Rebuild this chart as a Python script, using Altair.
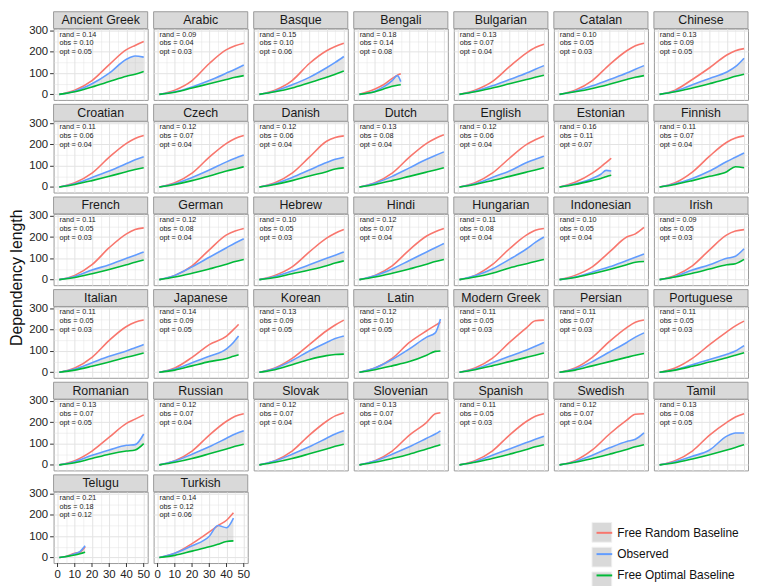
import altair as alt
import pandas as pd

LANGS = ["Ancient Greek", "Arabic", "Basque", "Bengali", "Bulgarian", "Catalan", "Chinese",
         "Croatian", "Czech", "Danish", "Dutch", "English", "Estonian", "Finnish",
         "French", "German", "Hebrew", "Hindi", "Hungarian", "Indonesian", "Irish",
         "Italian", "Japanese", "Korean", "Latin", "Modern Greek", "Persian", "Portuguese",
         "Romanian", "Russian", "Slovak", "Slovenian", "Spanish", "Swedish", "Tamil",
         "Telugu", "Turkish"]

STAT_RAND = [0.14, 0.09, 0.15, 0.18, 0.13, 0.10, 0.13,
             0.11, 0.12, 0.12, 0.13, 0.12, 0.16, 0.11,
             0.11, 0.12, 0.10, 0.12, 0.11, 0.10, 0.09,
             0.11, 0.14, 0.13, 0.12, 0.11, 0.11, 0.11,
             0.13, 0.12, 0.12, 0.13, 0.11, 0.12, 0.13,
             0.21, 0.14]
STAT_OBS = [0.10, 0.04, 0.10, 0.14, 0.07, 0.05, 0.09,
            0.06, 0.07, 0.06, 0.08, 0.06, 0.11, 0.07,
            0.05, 0.08, 0.05, 0.07, 0.08, 0.05, 0.05,
            0.05, 0.09, 0.09, 0.10, 0.05, 0.07, 0.05,
            0.07, 0.07, 0.07, 0.07, 0.05, 0.07, 0.08,
            0.18, 0.12]
STAT_OPT = [0.05, 0.03, 0.06, 0.08, 0.04, 0.03, 0.05,
            0.04, 0.04, 0.04, 0.04, 0.04, 0.07, 0.04,
            0.03, 0.04, 0.03, 0.04, 0.04, 0.04, 0.03,
            0.03, 0.05, 0.05, 0.05, 0.03, 0.03, 0.03,
            0.05, 0.04, 0.04, 0.04, 0.03, 0.04, 0.05,
            0.12, 0.06]

G = [1, 10, 20, 30, 40, 45, 50]
X_PTS = [G, G, G, [1, 10, 15, 20, 23, 25], G, G, G,
         G, G, G, G, G, [1, 10, 20, 25, 28, 31], G,
         G, G, G, G, G, G, G,
         G, [1, 10, 20, 30, 40, 44, 47], G, [1, 10, 20, 30, 40, 45, 48], G, G, G,
         G, G, G, [1, 10, 20, 30, 40, 45, 48], G, G, G,
         [1, 5, 10, 13, 16], [1, 10, 20, 30, 35, 40, 44]]

RAND = [[0, 20, 65, 140, 210, 230, 248], [0, 20, 65, 145, 210, 228, 240], [0, 20, 65, 145, 205, 225, 240],
        [0, 25, 45, 75, 90, 97], [0, 20, 60, 130, 195, 220, 235], [0, 20, 65, 140, 205, 228, 240],
        [0, 20, 70, 125, 185, 205, 215],
        [0, 20, 65, 140, 205, 228, 242], [0, 20, 65, 140, 205, 228, 242], [0, 20, 65, 140, 215, 232, 240],
        [0, 20, 65, 140, 205, 228, 245], [0, 20, 65, 135, 200, 222, 240], [0, 22, 65, 95, 115, 135],
        [0, 20, 70, 145, 210, 230, 240],
        [0, 20, 70, 150, 215, 235, 243], [0, 20, 65, 140, 210, 228, 240], [0, 20, 60, 130, 195, 218, 235],
        [0, 20, 65, 140, 205, 225, 240], [0, 20, 70, 145, 210, 232, 240], [0, 20, 60, 130, 200, 215, 245],
        [0, 20, 65, 140, 210, 228, 235],
        [0, 20, 70, 150, 215, 235, 245], [0, 20, 70, 130, 170, 200, 225], [0, 20, 65, 130, 195, 222, 245],
        [0, 20, 65, 140, 195, 220, 235], [0, 20, 65, 140, 210, 242, 245], [0, 20, 70, 145, 210, 235, 245],
        [0, 20, 65, 130, 190, 218, 240],
        [0, 20, 65, 130, 195, 215, 235], [0, 20, 65, 140, 205, 228, 240], [0, 20, 65, 140, 205, 230, 245],
        [0, 20, 65, 140, 200, 240, 245], [0, 20, 65, 140, 205, 228, 240], [0, 20, 70, 145, 210, 238, 240],
        [0, 20, 65, 140, 200, 225, 240],
        [0, 5, 20, 25, 50], [0, 20, 65, 120, 150, 175, 210]]

OBS = [[0, 15, 50, 100, 165, 180, 175], [0, 12, 35, 65, 100, 118, 138], [0, 15, 45, 80, 125, 150, 178],
       [0, 15, 35, 65, 88, 60], [0, 15, 40, 70, 100, 118, 135], [0, 15, 40, 70, 100, 118, 135],
       [0, 15, 45, 75, 105, 130, 170],
       [0, 15, 45, 75, 110, 128, 142], [0, 15, 45, 80, 118, 135, 150], [0, 15, 45, 80, 115, 130, 140],
       [0, 18, 50, 90, 130, 148, 165], [0, 15, 45, 75, 115, 130, 145], [0, 15, 40, 60, 78, 75],
       [0, 15, 40, 75, 120, 140, 160],
       [0, 15, 45, 70, 100, 115, 130], [0, 20, 60, 105, 150, 172, 192], [0, 15, 40, 70, 100, 115, 130],
       [0, 18, 50, 90, 130, 150, 170], [0, 18, 50, 95, 145, 175, 200], [0, 12, 35, 60, 90, 105, 120],
       [0, 15, 45, 70, 100, 110, 145],
       [0, 15, 45, 75, 100, 115, 130], [0, 15, 45, 75, 110, 140, 170], [0, 18, 55, 100, 140, 158, 170],
       [0, 20, 60, 110, 165, 185, 250], [0, 15, 45, 75, 105, 122, 140], [0, 15, 50, 95, 140, 165, 185],
       [0, 12, 35, 60, 85, 100, 125],
       [0, 15, 45, 70, 92, 95, 145], [0, 18, 50, 85, 125, 145, 160], [0, 18, 50, 85, 125, 145, 160],
       [0, 18, 50, 85, 125, 145, 160], [0, 15, 45, 75, 105, 120, 135], [0, 15, 45, 80, 110, 120, 150],
       [0, 15, 40, 70, 135, 150, 150],
       [0, 5, 18, 28, 55], [0, 20, 55, 100, 150, 140, 185]]

OPT = [[0, 12, 35, 60, 85, 95, 108], [0, 10, 30, 50, 70, 80, 88], [0, 12, 30, 55, 80, 95, 110],
       [0, 12, 25, 38, 43, 45], [0, 12, 30, 50, 70, 80, 90], [0, 12, 28, 48, 70, 80, 88],
       [0, 12, 30, 50, 72, 85, 95],
       [0, 12, 30, 50, 72, 82, 90], [0, 12, 30, 52, 75, 85, 95], [0, 12, 30, 52, 72, 85, 90],
       [0, 12, 30, 50, 70, 80, 90], [0, 12, 30, 50, 70, 80, 90], [0, 12, 30, 40, 48, 55],
       [0, 12, 30, 50, 72, 95, 90],
       [0, 10, 28, 48, 70, 82, 92], [0, 12, 30, 50, 72, 85, 95], [0, 10, 28, 45, 65, 78, 88],
       [0, 12, 30, 50, 72, 85, 95], [0, 12, 30, 55, 75, 85, 95], [0, 10, 28, 48, 70, 82, 85],
       [0, 12, 30, 50, 70, 75, 95],
       [0, 10, 28, 48, 70, 80, 90], [0, 10, 30, 50, 65, 75, 82], [0, 12, 35, 60, 78, 83, 85],
       [0, 12, 30, 50, 80, 98, 100], [0, 12, 30, 50, 70, 80, 90], [0, 10, 30, 50, 70, 80, 88],
       [0, 10, 28, 48, 68, 80, 92],
       [0, 10, 30, 50, 65, 70, 100], [0, 12, 30, 52, 75, 87, 97], [0, 12, 30, 52, 75, 87, 97],
       [0, 12, 30, 50, 75, 87, 95], [0, 12, 30, 50, 72, 85, 95], [0, 12, 30, 50, 72, 85, 95],
       [0, 10, 28, 48, 70, 82, 95],
       [0, 5, 12, 18, 25], [0, 10, 30, 50, 62, 75, 78]]

SERIES = ["Free Random Baseline", "Observed", "Free Optimal Baseline"]
COLORS = ["#F8766D", "#619CFF", "#00BA38"]
KEYS = ["k1", "k2", "k3"]
X_TICKS = [0, 10, 20, 30, 40, 50]
BOTTOM_LANGS = ["Telugu", "Turkish"]

W, H = 95, 72
STRIP = 17

rows = []
for i, lang in enumerate(LANGS):
    for j, xv in enumerate(X_PTS[i]):
        for s, vals in zip(SERIES, (RAND, OBS, OPT)):
            rows.append(dict(lang=lang, kind="line", series=s, x=xv, y=vals[i][j]))
        rows.append(dict(lang=lang, kind="band", x=xv, y=OPT[i][j], y2=OBS[i][j]))
    rows.append(dict(lang=lang, kind="head", label=lang,
                     stats=f"rand = {STAT_RAND[i]:.2f}\nobs = {STAT_OBS[i]:.2f}\nopt = {STAT_OPT[i]:.2f}"))
for lang in BOTTOM_LANGS:
    for t in X_TICKS:
        rows.append(dict(lang=lang, kind="xtick", x=t, label=str(t)))
for k in KEYS:
    rows.append(dict(lang=LANGS[0], kind="key", key=k))
df = pd.DataFrame(rows)

major_y = "datum.value % 100 == 0"

x_enc = alt.X("x:Q", title=None,
              scale=alt.Scale(domain=[-2.3, 52.3], nice=False, zero=False),
              axis=alt.Axis(values=list(range(0, 51, 5)), labels=False, ticks=False, domain=False,
                            gridWidth={"condition": {"test": "datum.value % 10 == 0", "value": 1}, "value": 0.5},
                            gridColor="#e3e3e3"))
y_enc = alt.Y("y:Q", title=None,
              scale=alt.Scale(domain=[-26, 309], nice=False, zero=False),
              axis=alt.Axis(values=list(range(0, 301, 50)),
                            labelExpr=f"{major_y} ? datum.label : ''",
                            tickOpacity={"condition": {"test": major_y, "value": 1}, "value": 0},
                            gridWidth={"condition": {"test": major_y, "value": 1}, "value": 0.5},
                            gridColor="#e3e3e3", domain=False, tickColor="#333", tickSize=4,
                            labelFontSize=11.5, labelColor="#222", labelPadding=2,
                            labelFlush=False, labelOverlap=False))

band = alt.Chart().mark_area(color="#b5b5b5", opacity=0.35, interpolate="monotone").encode(
    x=x_enc, y=y_enc, y2="y2:Q").transform_filter("datum.kind == 'band'")

# gray key boxes for the legend (a legend of its own; its layer draws nothing in the panels)
key_boxes = alt.Chart().mark_square(filled=True, opacity=0).encode(
    x=alt.value(0), y=alt.value(0),
    color=alt.Color("key:N", sort=KEYS,
                    scale=alt.Scale(domain=KEYS, range=["#d9d9d9"] * 3),
                    legend=alt.Legend(title=None, orient="none", legendX=543, legendY=498,
                                      symbolType="square", symbolSize=400, symbolStrokeColor="#f2f2f2",
                                      symbolStrokeWidth=1, symbolOpacity=1,
                                      labelExpr="''", labelOpacity=0, labelFontSize=12, rowPadding=0))
).transform_filter("datum.kind == 'key'")

lines = alt.Chart().mark_line(strokeWidth=1.6, interpolate="monotone").encode(
    x=x_enc, y=y_enc,
    stroke=alt.Stroke("series:N", sort=SERIES,
                      scale=alt.Scale(domain=SERIES, range=COLORS),
                      legend=alt.Legend(title=None, orient="none", legendX=547, legendY=500,
                                        symbolType="stroke", symbolStrokeWidth=2, symbolSize=250,
                                        labelFontSize=12, labelColor="#111", rowPadding=6.5))
).transform_filter("datum.kind == 'line'")

stats = alt.Chart().mark_text(fontSize=7.3, align="left", baseline="top", lineBreak="\n",
                              lineHeight=9, color="#222").encode(
    x=alt.value(6), y=alt.value(2), text="stats:N").transform_filter("datum.kind == 'head'")

strip = alt.Chart().mark_rect(fill="#d9d9d9", stroke="#9a9a9a", strokeWidth=1).encode(
    x=alt.value(0), x2=alt.value(W), y=alt.value(-STRIP), y2=alt.value(0)
).transform_filter("datum.kind == 'head'")

strip_text = alt.Chart().mark_text(fontSize=12.5, align="center", baseline="middle", color="#1a1a1a").encode(
    x=alt.value(W / 2), y=alt.value(-STRIP / 2), text="label:N").transform_filter("datum.kind == 'head'")

xtick_marks = alt.Chart().mark_rule(color="#333", strokeWidth=1).encode(
    x=x_enc, y=alt.value(H), y2=alt.value(H + 4)).transform_filter("datum.kind == 'xtick'")

xtick_labels = alt.Chart().mark_text(fontSize=11.5, align="center", baseline="top", color="#222").encode(
    x=x_enc, y=alt.value(H + 6), text="label:N").transform_filter("datum.kind == 'xtick'")

layered = alt.layer(band, key_boxes, lines, stats, strip, strip_text, xtick_marks, xtick_labels,
                    data=df).properties(width=W, height=H)

chart = layered.facet(
    facet=alt.Facet("lang:N", sort=LANGS,
                    header=alt.Header(labels=False, labelExpr="''", labelFontSize=0,
                                      labelPadding=0, title=None)),
    columns=7,
    spacing={"row": STRIP + 4.5, "column": 6},
    bounds="flush",
).properties(
    title=alt.TitleParams("Dependency length", orient="left", anchor="middle",
                          fontSize=16, fontWeight="normal", color="#111", offset=4, dx=25),
    padding=0,
).configure(font="Liberation Sans").configure_view(stroke="#9a9a9a", strokeWidth=1)

chart.save("out.html", embed_options={"renderer": "svg", "actions": False})
